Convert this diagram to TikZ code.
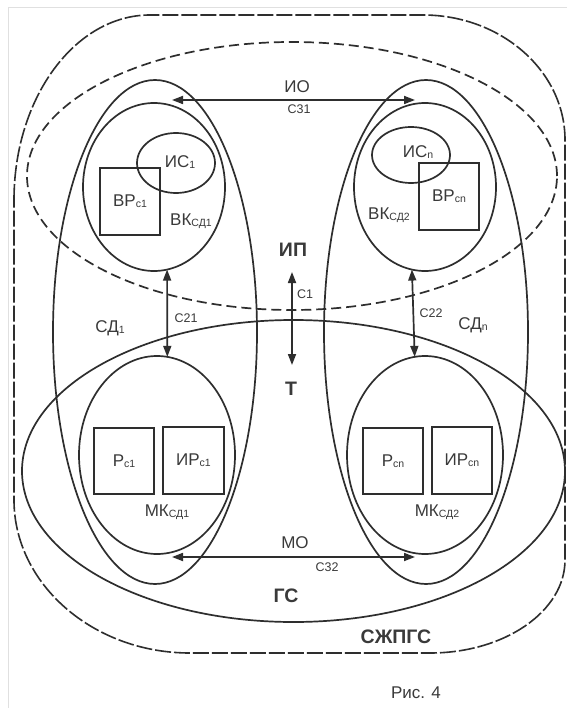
\documentclass[tikz,border=0pt]{standalone}
\usepackage{fontspec}
\setmainfont{Liberation Sans}
\usetikzlibrary{arrows.meta,shapes.geometric}
\definecolor{ink}{HTML}{2E2E2E}
\definecolor{txt}{HTML}{3A3A3A}
\newcommand{\sbx}[1]{\raisebox{-1.3pt}{\fontsize{10.5}{12}\selectfont #1}}
\begin{document}
\begin{tikzpicture}[x=1pt,y=-1pt,
 ell/.style={ellipse, draw=ink, line width=1.7pt, inner sep=0pt, outer sep=0pt},
 boxn/.style={rectangle, draw=ink, line width=1.7pt, inner sep=0pt, outer sep=0pt, text=txt, font=\fontsize{17}{20}\selectfont},
 lbl/.style={text=txt, inner sep=0pt, font=\fontsize{17}{20}\selectfont},
 small/.style={text=txt, inner sep=0pt, font=\fontsize{12.5}{15}\selectfont},
 big/.style={text=txt, inner sep=0pt, font=\fontsize{19.5}{22}\selectfont\bfseries},
 arr/.style={draw=ink, line width=1.7pt, {Triangle[length=11pt,width=8pt]}-{Triangle[length=11pt,width=8pt]}},
]
\useasboundingbox (0,0) rectangle (567,708);
\fill[white] (0,0) rectangle (567,708);
% faint page border
\draw[black!12, line width=0.7pt] (8,708) -- (8,7) -- (567,7);

% outer dashed contour (СЖПГС)
\draw[ink, line width=1.6pt, dash pattern=on 16pt off 3pt]
  (14,200) .. controls (14,98) and (75,15) .. (150,15) -- (423,15)
  .. controls (501,15) and (565,71) .. (565,140) -- (565,560)
  .. controls (565,611) and (505,653) .. (430,653) -- (190,653)
  .. controls (93,653) and (14,584) .. (14,500) -- cycle;

% ИО dashed ellipse
\node[ell, dash pattern=on 10pt off 5pt, minimum width=530, minimum height=268] (io) at (292,176) {};
% ГС ellipse
\node[ell, minimum width=543, minimum height=302] (gs) at (293.5,471) {};

% СД ellipses
\node[ell, minimum width=204, minimum height=504] (sd1) at (155,332) {};
\node[ell, minimum width=204, minimum height=504] (sd2) at (426,332) {};

% ВК ellipses
\node[ell, minimum width=142, minimum height=168] (vk1) at (154,187) {};
\node[ell, minimum width=142, minimum height=168] (vk2) at (425,187) {};

% МК ellipses
\node[ell, minimum width=156, minimum height=198] (mk1) at (157,455) {};
\node[ell, minimum width=156, minimum height=198] (mk2) at (425,455) {};

% ИС ellipses
\node[ell, minimum width=78, minimum height=60] (is1) at (176,163) {};
\node[ell, minimum width=78, minimum height=56] (is2) at (411,155) {};

% boxes
\node[boxn, minimum width=60, minimum height=67] (vr1) at (130,201.5) {ВР\sbx{с1}};
\node[boxn, minimum width=60, minimum height=67] (vr2) at (449,196.5) {ВР\sbx{сn}};
\node[boxn, minimum width=60, minimum height=66] (r1) at (124,461) {Р\sbx{с1}};
\node[boxn, minimum width=61, minimum height=67] (ir1) at (193.5,460.5) {ИР\sbx{с1}};
\node[boxn, minimum width=60, minimum height=66] (r2) at (393,461) {Р\sbx{сn}};
\node[boxn, minimum width=60, minimum height=67] (ir2) at (462,460.5) {ИР\sbx{сn}};

% labels
\node[lbl] (tio) at (297,87) {ИО};
\node[small] (tc31) at (299,109) {С31};
\node[lbl] (tmo) at (295,543) {МО};
\node[small] (tc32) at (327,567) {С32};
\node[big] (tip) at (293,250) {ИП};
\node[big] (tt) at (291,389) {Т};
\node[small] (tc1) at (305,294) {С1};
\node[small] (tc21) at (186,318) {С21};
\node[small] (tc22) at (431,313) {С22};
\node[lbl] (tsd1) at (110,328) {СД\sbx{1}};
\node[lbl] (tsd2) at (473,325) {СД\sbx{n}};
\node[lbl] (tis1) at (180,162) {ИС\sbx{1}};
\node[lbl] (tis2) at (418,152) {ИС\sbx{n}};
\node[lbl] (tvk1) at (191,221) {ВК\sbx{СД1}};
\node[lbl] (tvk2) at (389,215) {ВК\sbx{СД2}};
\node[lbl] (tmk1) at (167,512) {МК\sbx{СД1}};
\node[lbl] (tmk2) at (437,512) {МК\sbx{СД2}};
\node[big] (tgs) at (286,596) {ГС};
\node[big] (tsz) at (396,637) {СЖПГС};
\node[lbl] (tfig) at (416,693) {Рис. 4};

% connector end points
\coordinate (c31a) at (172,100);
\coordinate (c31b) at (415,100);
\coordinate (c32a) at (172,557);
\coordinate (c32b) at (415,557);
\coordinate (c1a) at (292,272);
\coordinate (c1b) at (292,365);

% arrows
\draw[arr] (c31a) -- (c31b);
\draw[arr] (c32a) -- (c32b);
\draw[arr] (c1a) -- (c1b);
\draw[arr] (vk1.-81) -- (mk1.84);
\draw[arr] (vk2.-99) -- (mk2.96);
\end{tikzpicture}
\end{document}
